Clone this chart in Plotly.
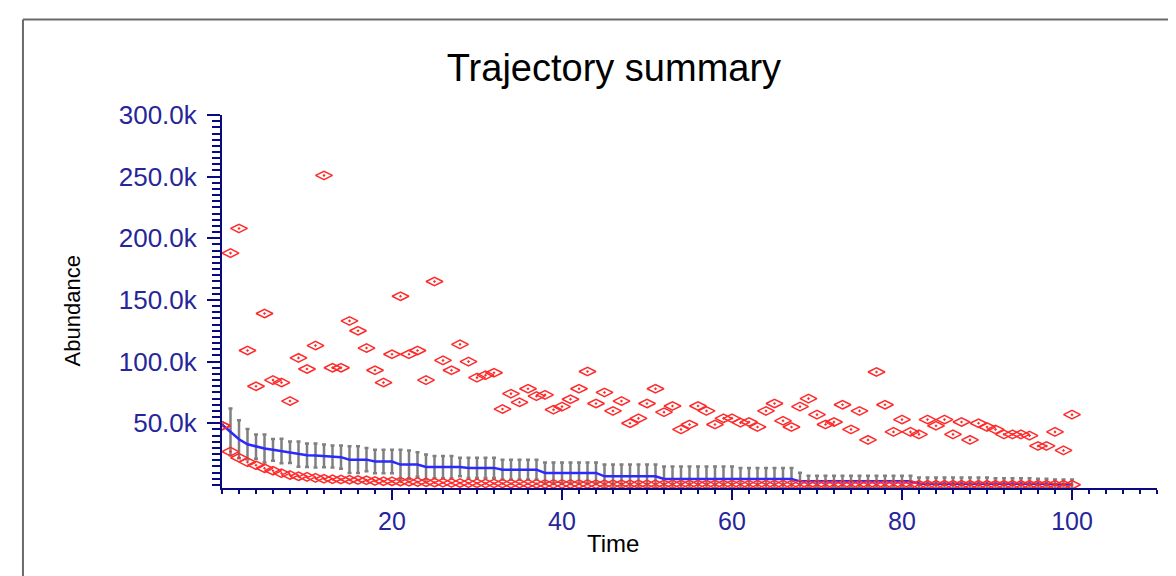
import plotly.graph_objects as go

# ---- data (values in thousands) ----
time = list(range(0, 101))

max_k = [48, 188, 208, 109, 80, 139, 85, 83, 68, 103,
         94, 113, 251, 95, 95, 133, 125, 111, 93, 83,
         106, 153, 106, 109, 85, 165, 101, 93, 114, 100,
         87, 89, 91, 61.5, 74, 67, 78, 72, 73, 61,
         63.5, 69.5, 78, 92, 66, 75, 60, 68, 50, 54,
         66, 78, 59, 64, 45, 49, 64, 60, 49, 54,
         54, 50.5, 51, 47, 60, 66, 52, 47, 63.5, 70,
         57, 49, 51, 65, 45, 60, 36.5, 91.6, 65, 43,
         53, 43, 41, 53, 48, 53, 41, 51, 36.5, 50,
         47, 45, 41, 41, 41, 40, 31.6, 31.6, 43, 28,
         57]

min_k = [48, 27, 22, 18.5, 16, 13.5, 11.5, 9.5, 8, 7,
         6.5, 5.7, 5, 4.6, 4.4, 4.2, 4, 3.8, 3.2, 3,
         2.9, 2.7, 2.5, 2.3, 2.1, 1.9, 1.8, 1.6, 1.5, 1.4,
         1.3, 1.2, 1.2, 1.1, 1.0, 1.0, 0.9, 0.9, 0.8, 0.8,
         0.8, 0.7, 0.7, 0.7, 0.6, 0.6, 0.6, 0.6, 0.5, 0.5,
         0.5, 0.5, 0.5, 0.5, 0.4, 0.4, 0.4, 0.4, 0.4, 0.4,
         0.4, 0.3, 0.3, 0.3, 0.3, 0.3, 0.3, 0.3, 0.3, 0.3,
         0.3, 0.3, 0.2, 0.2, 0.2, 0.2, 0.2, 0.2, 0.2, 0.2,
         0.2, 0.2, 0.2, 0.2, 0.2, 0.2, 0.2, 0.1, 0.1, 0.1,
         0.1, 0.1, 0.1, 0.1, 0.1, 0.1, 0.1, 0.1, 0.1, 0.1,
         0.1]

mean_k = [49, 43, 37, 33, 31, 29.5, 28.5, 27.5, 26.5, 25,
          24, 23.8, 23.5, 23, 22.5, 20.5, 20.5, 20.5, 19, 19,
          19, 16.5, 16.5, 16.5, 14.5, 14.5, 14.5, 14.5, 14.5, 13.8,
          13.8, 13.8, 13.8, 12.4, 12.4, 12.4, 12.4, 12.4, 9.7, 9.7,
          9.7, 9.7, 9.7, 9.7, 9.7, 7, 7, 7, 7, 7,
          7, 7, 4.9, 4.9, 4.9, 4.9, 4.9, 4.9, 4.9, 4.9,
          4.9, 4.9, 4.9, 4.9, 4.9, 4.9, 4.9, 4.9, 2.9, 2.9,
          2.9, 2.9, 2.9, 2.9, 2.9, 2.9, 2.9, 2.9, 2.9, 2.9,
          2.9, 2.9, 1.0, 1.0, 1.0, 1.0, 1.0, 1.0, 1.0, 1.0,
          1.0, 1.0, 1.0, 1.0, 1.0, 1.0, 1.0, 1.0, 0.3, 0.3,
          0.3]

sd_k = [0, 19, 15.4, 12.4, 9.8, 11.3, 8.8, 10, 8.8, 10.3,
        9.5, 9.7, 9.2, 8.9, 9.4, 10.8, 10.8, 9.5, 9.6, 9.6,
        9.6, 12.1, 11.5, 9.9, 10.1, 9, 9, 9, 7.5, 8.2,
        8.2, 8.2, 8.2, 8.1, 8.1, 8.1, 8.1, 8.1, 8.5, 8.5,
        8.5, 8.5, 8.5, 8.5, 8.5, 9.5, 9.5, 9.5, 9.5, 9.5,
        9.5, 9.5, 10, 10, 10, 10, 10, 10, 10, 10,
        10, 8.9, 8.9, 8.9, 8.9, 8.9, 8.9, 8.9, 7, 4.6,
        4.6, 4.6, 4.6, 4.6, 4.6, 4.6, 4.6, 4.6, 4.6, 4.6,
        4.6, 4.6, 5, 5, 5, 5, 5, 5, 5, 5,
        5, 4.5, 4.5, 4.5, 4.5, 4.5, 4, 4, 4, 4,
        4]

y_tickvals_k = [50, 100, 150, 200, 250, 300]
y_ticktext = ["50.0k", "100.0k", "150.0k", "200.0k", "250.0k", "300.0k"]
x_tickvals = [20, 40, 60, 80, 100]

K = 1000.0
maxv = [v * K for v in max_k]
minv = [v * K for v in min_k]
meanv = [v * K for v in mean_k]
sdv = [v * K for v in sd_k]

NAVY = "#0a0a80"
LABEL = "#26269a"
RED = "#ff2a2a"
FONT = "Liberation Sans, Arial, sans-serif"

fig = go.Figure()

fig.add_trace(go.Scatter(
    x=time, y=meanv, mode="lines", name="Mean",
    line=dict(color="#2a2aff", width=2.5),
    error_y=dict(type="data", array=sdv, symmetric=True,
                 color="#808080", thickness=2.5, width=2),
    showlegend=False,
))
fig.add_trace(go.Scatter(
    x=time, y=minv, mode="markers", name="Min",
    marker=dict(symbol="diamond-wide-open-dot", size=12, color=RED,
                line=dict(color=RED, width=1.5)),
    showlegend=False,
))
fig.add_trace(go.Scatter(
    x=time, y=maxv, mode="markers", name="Max",
    marker=dict(symbol="diamond-wide-open-dot", size=12, color=RED,
                line=dict(color=RED, width=1.5)),
    showlegend=False,
))

# page body has an 8px margin: figure origin sits at (8, 8) in the window
O = 8
W, H = 1168, 568
PL, PR, PT, PB = 221.7, 1157.5, 115, 488   # plot area in window pixels
L = PL - O
R = (O + W) - PR
T = PT - O
B = (O + H) - PB
pw = PR - PL
ph = PB - PT

def px_x(px):
    return (px - PL) / pw

def px_y(py):
    return (PB - py) / ph

fig.update_layout(
    width=W, height=H,
    margin=dict(l=L, r=R, t=T, b=B, pad=0),
    paper_bgcolor="white", plot_bgcolor="white",
    font=dict(family=FONT, color="black"),
    title=dict(text="Trajectory summary", font=dict(size=38, color="black", family=FONT),
               x=px_x(614), xref="paper", xanchor="center",
               y=1 - (68 - O) / H, yref="container", yanchor="middle"),
    xaxis=dict(
        range=[0, 110], showgrid=False, zeroline=False,
        showline=True, linecolor=NAVY, linewidth=2,
        tickmode="array", tickvals=x_tickvals,
        ticks="outside", ticklen=10, tickwidth=2, tickcolor=NAVY,
        tickfont=dict(size=25, color=LABEL, family=FONT),
        minor=dict(tickmode="linear", tick0=0, dtick=2, ticks="outside",
                   ticklen=4, tickwidth=2, tickcolor=NAVY, showgrid=False),
    ),
    yaxis=dict(
        range=[-2500, 300000], showgrid=False, zeroline=False,
        showline=True, linecolor=NAVY, linewidth=2,
        tickmode="array", tickvals=[v * K for v in y_tickvals_k], ticktext=y_ticktext,
        ticks="outside", ticklen=13, tickwidth=2, tickcolor=NAVY,
        ticklabelstandoff=5,
        tickfont=dict(size=26, color=LABEL, family=FONT),
        minor=dict(tickmode="linear", tick0=0, dtick=5000, ticks="outside",
                   ticklen=8, tickwidth=2, tickcolor=NAVY, showgrid=False),
    ),
    annotations=[
        dict(text="Abundance", xref="paper", yref="paper",
             x=px_x(72), y=px_y(311), textangle=-90, showarrow=False,
             xanchor="center", yanchor="middle",
             font=dict(size=22, color="black", family=FONT)),
        dict(text="Time", xref="paper", yref="paper",
             x=px_x(613), y=px_y(543), showarrow=False,
             xanchor="center", yanchor="middle",
             font=dict(size=24, color="black", family=FONT)),
    ],
    shapes=[
        dict(type="line", xref="paper", yref="paper",
             x0=px_x(22.5), x1=px_x(1185), y0=px_y(19.5), y1=px_y(19.5),
             line=dict(color="#6a6a6a", width=2)),
        dict(type="line", xref="paper", yref="paper",
             x0=px_x(22.5), x1=px_x(22.5), y0=px_y(19.5), y1=px_y(590),
             line=dict(color="#6a6a6a", width=2)),
    ],
)

fig.write_html("out.html")
